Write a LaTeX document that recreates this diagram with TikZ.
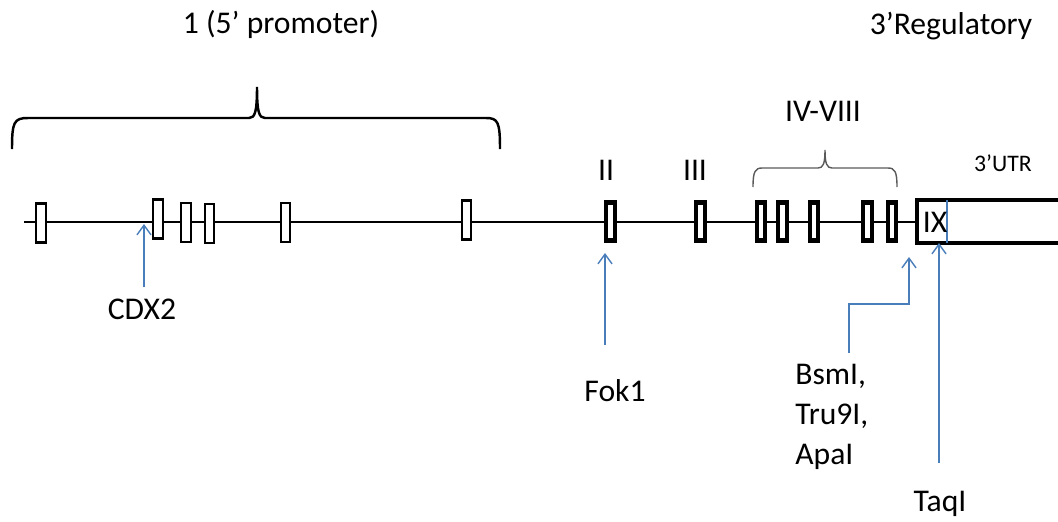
\documentclass[tikz,border=0pt]{standalone}
\usepackage{fontspec}
\setmainfont{Carlito}
\usetikzlibrary{arrows.meta}

\definecolor{snpblue}{RGB}{74,126,187}
\definecolor{bracegray}{RGB}{90,90,90}

\begin{document}
\begin{tikzpicture}[x=0.02cm, y=-0.02cm,
    lbl/.style={font=\fontsize{18}{22.8}\selectfont, inner sep=0pt},
    exonthin/.style={draw, line width=1.4pt, inner sep=0pt, minimum width=0.19cm, minimum height=0.78cm},
    exonthick/.style={draw, line width=2.4pt, inner sep=0pt, minimum width=0.17cm, minimum height=0.76cm},
    snp/.style={draw=snpblue, line width=0.8pt, -{Straight Barb[length=5.5pt, width=8pt]}}]
    \useasboundingbox (0,0) rectangle (1058,521);

    % Backbone of the gene
    \coordinate (start) at (24,222);
    \coordinate (utrL) at (917,222);
    \draw[line width=1.6pt] (start) -- (utrL);

    % Exon 1 region (5' promoter) - thin boxes
    \foreach \n/\x/\y in {a/41/223, b/158/219, c/186/222.5, d/209.5/223.5, e/285.5/222.5, f/466.5/220} {
        \node[exonthin, fill=white] (ex1\n) at (\x,\y) {};
    }

    % Exons II - VIII - thick boxes
    \foreach \n/\x in {2/610.5, 3/700.5, 4/761, 5/782.5, 6/814, 7/867.5, 8/892} {
        \node[exonthick, fill=white] (ex\n) at (\x,221.5) {};
    }

    % Exon IX and the 3'UTR (open to the right)
    \draw[line width=2.4pt] (1062,200) -- (917,200) -- (917,243) -- (1062,243);
    \draw[snpblue, line width=0.8pt] (947,200) -- (947,243);
    \node[lbl] (ix) at (935,222) {IX};

    % Braces
    \draw[line width=1.4pt] (12,149) .. controls (12,122) and (14,118) .. (28,118) -- (249,118)
        .. controls (255,118) and (257,112) .. (257,87)
        .. controls (257,112) and (259,118) .. (265,118) -- (486,118)
        .. controls (498,118) and (500,122) .. (500,149);
    \draw[bracegray, line width=0.8pt] (753,187) .. controls (753,172) and (755,168) .. (762,168) -- (818,168)
        .. controls (823,168) and (825,164) .. (825,150)
        .. controls (825,164) and (827,168) .. (832,168) -- (888,168)
        .. controls (895,168) and (897,172) .. (897,187);

    % Region labels
    \node[lbl] (promoter) at (281,24) {1 (5’ promoter)};
    \node[lbl] (regul) at (951,26) {3’Regulatory};
    \node[lbl] (lII) at (606,170) {II};
    \node[lbl] (lIII) at (695,170) {III};
    \node[lbl] (lIV) at (823,111) {IV-VIII};
    \node[lbl, font=\fontsize{13.5}{16}\selectfont] (utr) at (1003,163) {3’UTR};

    % Polymorphisms
    \node[lbl] (cdx) at (142,309) {CDX2};
    \node[lbl] (fok) at (615,391) {Fok1};
    \node[lbl, anchor=west, align=left] (bsm) at (795,417) {BsmI,\\Tru9I,\\ApaI};
    \node[lbl] (taq) at (940,504) {TaqI};

    \coordinate (cdxTail) at (144,287);
    \coordinate (cdxTip) at (144,224);
    \coordinate (fokTail) at (605,345);
    \coordinate (fokTip) at (605,253);
    \coordinate (bsmTail) at (849,353);
    \coordinate (bsmTip) at (909,257);
    \coordinate (taqTail) at (939,463);
    \coordinate (taqTip) at (939,243);

    \draw[snp] (cdxTail) -- (cdxTip);
    \draw[snp] (fokTail) -- (fokTip);
    \draw[snp] (bsmTail) -- (849,304) -- (909,304) -- (bsmTip);
    \draw[snp] (taqTail) -- (taqTip);
\end{tikzpicture}
\end{document}
